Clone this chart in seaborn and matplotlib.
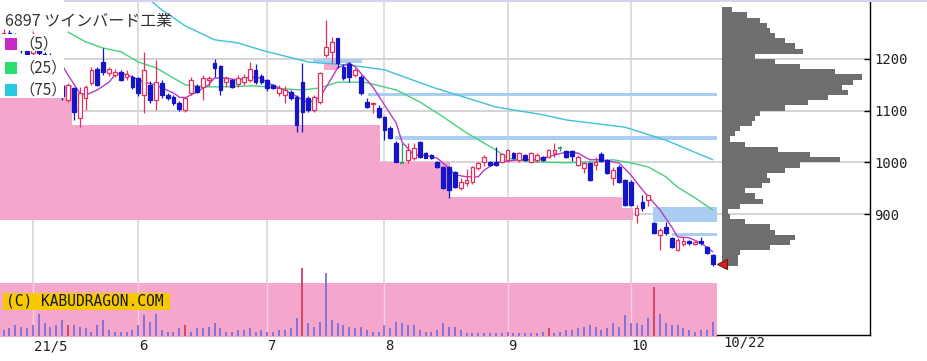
import matplotlib
matplotlib.use("Agg")
import matplotlib.pyplot as plt
from matplotlib.patches import Rectangle
from matplotlib.lines import Line2D
from matplotlib import transforms
import seaborn as sns

# ---------------- data ----------------
opens = [1240, 1250, 1238, 1230, 1215, 1212, 1232, 1210, 1190, 1165, 1148,
         1121, 1144, 1086, 1125, 1154, 1181, 1194, 1173, 1169, 1175, 1165, 1165, 1163, 1130, 1150,
         1121, 1154, 1130, 1127, 1115, 1101, 1134, 1148, 1146, 1159, 1192, 1186, 1155, 1159, 1152,
         1155, 1159, 1179, 1167, 1159, 1150, 1134, 1130, 1136, 1127, 1156, 1125, 1101, 1117, 1208,
         1213, 1240, 1185, 1190, 1169, 1165, 1117, 1113, 1105, 1088, 1067, 1038, 999, 1005, 1009,
         1040, 1018, 1014, 1001, 991, 991, 981, 950, 960, 962, 989, 1001, 1001, 1001, 1001, 1005,
         1018, 1005, 1014, 1001, 1005, 1010, 1010, 1018, 1028, 1022, 1022, 995, 989, 999, 995, 1016,
         1005, 970, 991, 966, 962, 898, 923, 927, 883, 860, 875, 854, 830, 842, 848, 842, 848, 836, 821]
highs = [1258, 1256, 1250, 1240, 1225, 1252, 1240, 1214, 1212, 1172, 1152,
         1154, 1146, 1146, 1150, 1185, 1185, 1221, 1185, 1181, 1179, 1179, 1168, 1165, 1213, 1158,
         1198, 1160, 1134, 1130, 1118, 1127, 1165, 1152, 1168, 1167, 1200, 1188, 1167, 1162, 1169,
         1170, 1194, 1190, 1170, 1162, 1152, 1150, 1148, 1140, 1130, 1192, 1128, 1130, 1175, 1275,
         1242, 1241, 1190, 1194, 1183, 1168, 1124, 1116, 1110, 1090, 1070, 1041, 1037, 1037, 1037,
         1042, 1020, 1016, 1003, 993, 993, 983, 970, 987, 993, 1001, 1014, 1003, 1030, 1018, 1026,
         1020, 1020, 1016, 1020, 1018, 1012, 1026, 1037, 1032, 1024, 1024, 1014, 1001, 1001, 1010, 1020,
         1007, 991, 995, 968, 966, 918, 937, 937, 885, 873, 885, 856, 853, 856, 850, 848, 856, 838, 822]
lows = [1232, 1235, 1225, 1212, 1200, 1205, 1205, 1185, 1160, 1140, 1120,
        1117, 1082, 1068, 1101, 1150, 1148, 1169, 1167, 1165, 1157, 1160, 1142, 1128, 1096, 1115,
        1101, 1125, 1121, 1110, 1100, 1097, 1130, 1134, 1120, 1148, 1165, 1130, 1146, 1144, 1146,
        1150, 1155, 1152, 1152, 1138, 1142, 1128, 1115, 1120, 1059, 1059, 1098, 1098, 1112, 1204,
        1192, 1182, 1160, 1155, 1165, 1130, 1105, 1096, 1085, 1043, 1045, 1000, 999, 999, 1005,
        1009, 1008, 1007, 989, 948, 931, 950, 946, 954, 958, 985, 993, 993, 993, 998, 1001,
        1006, 1001, 1003, 999, 1001, 1003, 1008, 1010, 1022, 1008, 1003, 993, 980, 964, 985, 1001,
        978, 956, 960, 915, 915, 883, 905, 915, 861, 830, 860, 834, 828, 838, 840, 840, 840, 823, 800]
closes = [1250, 1240, 1232, 1218, 1210, 1236, 1212, 1192, 1168, 1150, 1128,
          1150, 1097, 1134, 1146, 1179, 1150, 1175, 1181, 1175, 1160, 1171, 1146, 1134, 1179, 1121,
          1156, 1130, 1125, 1115, 1103, 1125, 1160, 1136, 1163, 1163, 1183, 1140, 1163, 1146, 1163,
          1165, 1181, 1156, 1156, 1144, 1144, 1144, 1140, 1125, 1072, 1097, 1101, 1127, 1173, 1223,
          1233, 1192, 1163, 1165, 1179, 1134, 1107, 1115, 1088, 1063, 1047, 1001, 999, 1024, 1028,
          1011, 1009, 1008, 991, 950, 947, 952, 962, 966, 991, 999, 1010, 995, 995, 1016, 1024,
          1008, 1018, 1005, 1018, 1014, 1005, 1024, 1024, 1028, 1011, 1012, 1011, 999, 966, 1001, 1003,
          980, 986, 962, 917, 917, 912, 912, 937, 863, 869, 863, 836, 850, 848, 844, 846, 844, 825, 803]
volumes = [5.7, 7.3, 10.7, 9, 7.3, 10.7, 21.3, 12.3, 9, 10.7, 15.7, 10.7, 10.7, 9, 7.3, 4, 10.7,
           15.7, 5.7, 4, 4, 4, 5.7, 10.7, 20.7, 14, 21.3, 5.7, 4, 4, 7.3, 10.7, 4, 7.3, 7.3, 9,
           12.3, 7.3, 4, 4, 5.7, 5.7, 7.3, 4, 5.7, 4, 4, 5.7, 5.7, 7.3, 17.3, 67.3, 12.3, 9, 14,
           62.3, 15.7, 12.3, 10.7, 9, 7.3,
           9, 5.7, 4, 4, 10.7, 7.3, 14, 12.3, 10.7, 10.7, 5.7, 4, 4, 5.7, 12.3, 9, 9, 5.7, 2.3,
           2.3, 2.3, 2.3, 2.3, 2.3, 2.3, 4, 2.3, 2.3, 2.3, 2.3, 2.3, 4, 7.3, 2.3, 4, 5.7, 5.7,
           7.3, 9, 10.7, 9, 5.7, 7.3, 12.3, 9, 20.7, 12.3, 12.3, 10.7, 17.3, 49, 21.3, 12.3, 10.7,
           10.7, 7.3, 5.7, 4, 5.7, 5.7, 14]
red_volume_days = [11, 31, 51, 93, 111]

ma5_days = [9, 10, 11, 13, 14, 16, 18, 19, 20, 22, 24, 26, 27, 29, 30, 31, 33, 35, 36, 38, 40, 42,
            44, 45, 47, 49, 51, 52, 54, 56, 57, 59, 60, 63, 65, 67, 68, 70, 72, 74, 76, 77, 79,
            81, 82, 84, 85, 88, 91, 96, 98, 100, 102, 105, 107, 109, 112, 114, 115, 117, 119, 121]
ma5_vals = [1205, 1188, 1169, 1134, 1130, 1140, 1155, 1169, 1173, 1165, 1155, 1150, 1144, 1134,
            1126, 1125, 1136, 1150, 1163, 1163, 1159, 1165, 1163, 1154, 1144, 1134, 1121, 1115,
            1126, 1163, 1183, 1192, 1185, 1146, 1111, 1076, 1039, 1014, 1014, 1008, 989, 976, 972,
            972, 985, 999, 1001, 1005, 1005, 1020, 1018, 1005, 1005, 999, 976, 947, 908, 875, 856,
            854, 844, 827]
ma25_days = [11, 14, 17, 20, 23, 26, 29, 31, 34, 37, 43, 48, 51, 54, 57, 61, 62, 67, 71, 75, 79,
             82, 84, 86, 90, 96, 101, 104, 107, 110, 113, 115, 118, 121]
ma25_vals = [1252, 1233, 1221, 1214, 1194, 1183, 1163, 1150, 1146, 1146, 1148, 1142, 1140, 1144,
             1155, 1155, 1154, 1140, 1117, 1088, 1057, 1037, 1024, 1008, 1001, 999, 1001, 1005,
             999, 991, 972, 952, 931, 908]
ma75_days = [25, 27, 31, 36, 40, 44, 52, 59, 65, 73, 84, 92, 96, 106, 113, 121]
ma75_vals = [1314, 1295, 1264, 1237, 1231, 1217, 1194, 1188, 1179, 1146, 1107, 1092, 1082, 1068,
             1043, 1005]

tick_days = [5, 23, 45, 65, 86, 107]
tick_labels = ["21/5", "6", "7", "8", "9", "10"]
last_date = "10/22"
price_ticks = [900, 1000, 1100, 1200]

profile_prices = [800, 810, 820, 830, 840, 850, 860, 870, 880, 890, 900, 910, 920, 930, 940, 950,
                  960, 970, 980, 990, 1000, 1010, 1020, 1030, 1040, 1050, 1060, 1070, 1080, 1090,
                  1100, 1110, 1120, 1130, 1140, 1150, 1160, 1170, 1180, 1190, 1200, 1210, 1220,
                  1230, 1240, 1250, 1260, 1270, 1280, 1290]
profile_volume = [16, 16, 18, 48, 68, 73, 53, 48, 23, 8, 6, 18, 41, 33, 23, 40, 48, 45, 63, 78, 118,
                  88, 56, 23, 8, 13, 18, 30, 33, 38, 63, 86, 106, 126, 120, 131, 140, 113, 78, 53,
                  33, 81, 73, 63, 53, 48, 45, 38, 25, 10]

pink_x0 = [-0.6, 11.7, 64.2, 76.2, 105.5, 54.7]
pink_x1 = [11.7, 64.2, 76.2, 105.5, 107.4, 57.1]
pink_lo = [888, 888, 888, 888, 888, 1179]
pink_hi = [1150, 1072, 1001, 933, 912, 1202]

blue_x0 = [62.2, 66.8, 110.8, 114.1, 52.8]
blue_x1 = [121.9, 121.9, 121.9, 121.9, 61.2]
blue_lo = [1129, 1044, 885, 858, 1193]
blue_hi = [1135, 1050, 913, 864, 1200]

title = "6897 ツインバード工業"
legend_labels = ["（5）", "（25）", "（75）"]
copyright_text = "(C) KABUDRAGON.COM"

# ---------------- style ----------------
RED = '#e2305c'
BLUE = '#1515c8'
GREEN = '#20a050'
PINK = '#f4a6cc'
LBLUE = '#aacdf2'
GRID = '#d4d4d4'
MA5_C = '#b43cc8'
MA25_C = '#48d07c'
MA75_C = '#3cc2d8'
VBLUE = '#7b6fd6'
VRED = '#d04060'

sns.set_theme(style="white")
plt.rcParams['font.family'] = ['DejaVu Sans']

W, H = 928, 361
fig = plt.figure(figsize=(W / 100, H / 100), dpi=100)
fig.patch.set_facecolor('white')


def fx(x):
    return x / W


def fy(y):
    return 1 - y / H


ax = fig.add_axes([0, fy(335), fx(718), 335 / H])
axv = fig.add_axes([0, fy(337), fx(718), 75 / H], sharex=ax)
axh = fig.add_axes([fx(717), fy(335), fx(870 - 717), 335 / H])

XL = (-0.6, 121.9)
YL = (666, 1314)

# ---- price panel ----
for p in price_ticks:
    ax.axhline(p, color=GRID, lw=1.4, zorder=0.5)
for d in tick_days:
    ax.axvline(d, color=GRID, lw=1.1, zorder=0.5)

for x0, x1, lo, hi in zip(pink_x0, pink_x1, pink_lo, pink_hi):
    ax.add_patch(Rectangle((x0, lo), x1 - x0, hi - lo, facecolor=PINK, edgecolor='none', zorder=1))
for x0, x1, lo, hi in zip(blue_x0, blue_x1, blue_lo, blue_hi):
    ax.add_patch(Rectangle((x0, lo), x1 - x0, hi - lo, facecolor=LBLUE, edgecolor='none', zorder=1.1))

sns.lineplot(x=ma75_days, y=ma75_vals, ax=ax, color=MA75_C, linewidth=1.0, zorder=2.5, legend=False)
sns.lineplot(x=ma25_days, y=ma25_vals, ax=ax, color=MA25_C, linewidth=1.0, zorder=2.5, legend=False)
sns.lineplot(x=ma5_days, y=ma5_vals, ax=ax, color=MA5_C, linewidth=1.0, zorder=2.6, legend=False)

bw = 0.64
for i, (o, h, l, c) in enumerate(zip(opens, highs, lows, closes)):
    if c > o:
        col, face = RED, 'white'
    elif c < o:
        col, face = BLUE, BLUE
    else:
        col, face = GREEN, GREEN
    ax.vlines(i, l, h, color=col, lw=0.9, zorder=3)
    if c == o:
        ax.hlines(c, i - bw / 2, i + bw / 2, color=col, lw=1.2, zorder=4)
    else:
        lo_, hi_ = min(o, c), max(o, c)
        ax.add_patch(Rectangle((i - bw / 2, lo_), bw, max(hi_ - lo_, 1.5), facecolor=face,
                               edgecolor=col, lw=0.9, zorder=4))

ax.set_xlim(*XL)
ax.set_ylim(*YL)
ax.axis('off')

# ---- volume panel ----
axv.set_facecolor('none')
axv.add_patch(Rectangle((XL[0], -1.3), XL[1] - XL[0], 54, facecolor=PINK, edgecolor='none', zorder=1))
for d in tick_days:
    axv.vlines(d, -1.3, 52.7, color='#f8d0e2', lw=1.0, zorder=1.5)
vcols = [VRED if i in red_volume_days else VBLUE for i in range(len(volumes))]
axv.vlines(list(range(len(volumes))), 0, volumes, colors=vcols, lw=1.3, zorder=3)
axv.set_ylim(-1.3, 73.7)
axv.set_xlim(*XL)
axv.axis('off')

# ---- volume profile ----
for p in price_ticks:
    axh.axhline(p, color=GRID, lw=1.4, zorder=0.5)
axh.barh(profile_prices, profile_volume, height=10, align='edge', color='#6e6e6e',
         edgecolor='none', linewidth=0, zorder=2)
axh.plot(0, closes[-1], marker='<', ms=7, color='#d42020', mec='#7a1010', mew=0.8,
         clip_on=False, zorder=5)
axh.set_xlim(-5, 148)
axh.set_ylim(*YL)
for s in ['left', 'top']:
    axh.spines[s].set_visible(False)
for s in ['right', 'bottom']:
    axh.spines[s].set_visible(True)
    axh.spines[s].set_color('black')
    axh.spines[s].set_linewidth(1.0)
axh.set_xticks([])
axh.yaxis.tick_right()
axh.set_yticks(price_ticks)
axh.set_yticklabels([str(p) for p in price_ticks], fontfamily='DejaVu Sans Mono', fontsize=10,
                    color='#222222')
axh.tick_params(axis='y', direction='in', length=4, width=1, colors='black', pad=3,
                right=True, left=False, labelright=True, labelleft=False)
for t in axh.get_yticklabels():
    t.set_color('#222222')

# ---- date labels ----
trans = transforms.blended_transform_factory(ax.transData, fig.transFigure)
trans = transforms.offset_copy(trans, fig=fig, x=1, y=0, units='dots')
for d, lab in zip(tick_days, tick_labels):
    ax.text(d, fy(346), lab, transform=trans, ha='left', va='center', fontsize=10,
            family='DejaVu Sans Mono', color='#222222')
fig.text(fx(723), fy(343), last_date, ha='left', va='center', fontsize=10,
         family='DejaVu Sans Mono', color='#222222')

# ---- top border ----
fig.add_artist(Line2D([0, 1], [fy(0.6), fy(0.6)], transform=fig.transFigure, color='#d4d4ee', lw=1.5))

# ---- legend / title ----
for y0, y1 in [(0, 29), (34, 51), (55, 98)]:
    fig.add_artist(Rectangle((0, fy(y1)), fx(64), (y1 - y0) / H,
                             transform=fig.transFigure, facecolor='white', edgecolor='none', zorder=5))
fig.text(fx(5), fy(21.5), title, ha='left', va='center', fontsize=11.5,
         family=['Noto Sans CJK JP', 'DejaVu Sans'], color='#333333', zorder=6)
for (yc, col, lab) in zip([44, 68, 90], ['#c828c8', '#28e070', '#28c8e0'], legend_labels):
    fig.add_artist(Rectangle((fx(5), fy(yc + 6)), 12 / W, 12 / H, transform=fig.transFigure,
                             facecolor=col, edgecolor='none', zorder=6))
    fig.text(fx(19), fy(yc), lab, ha='left', va='center', fontsize=11,
             family=['Noto Sans CJK JP', 'DejaVu Sans'], color='#333333', zorder=6)

# ---- copyright ----
fig.add_artist(Rectangle((fx(3), fy(310)), 167 / W, 17 / H, transform=fig.transFigure,
                         facecolor='#f5c800', edgecolor='none', zorder=5))
fig.text(fx(6), fy(301.5), copyright_text, ha='left', va='center', fontsize=10.5,
         family='DejaVu Sans Mono', color='#1a1a1a', zorder=6)

fig.savefig('out.png', dpi=100)
